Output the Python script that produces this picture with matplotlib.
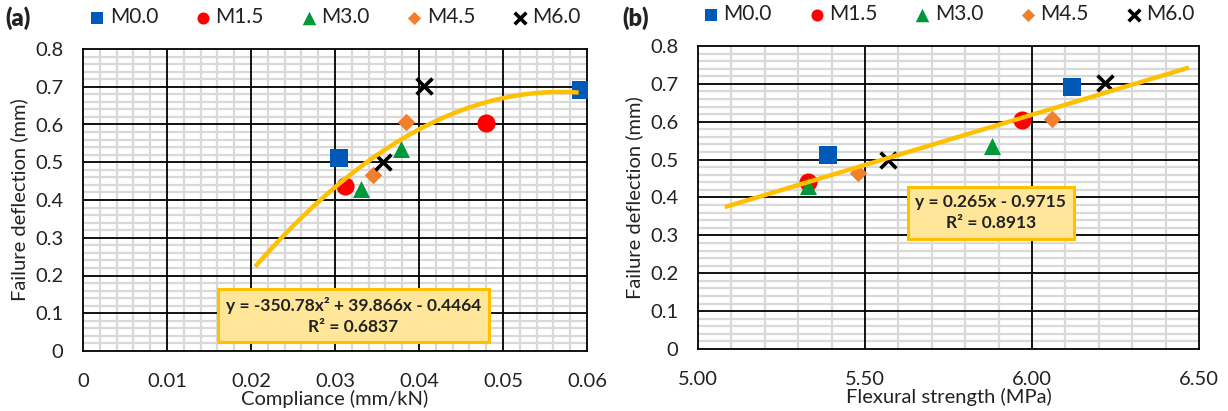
import matplotlib.pyplot as plt
import numpy as np
from matplotlib.ticker import MultipleLocator

plt.rcParams['font.family'] = ['Lato', 'DejaVu Sans']

# series labels and styles
labels = ['M0.0', 'M1.5', 'M3.0', 'M4.5', 'M6.0']
colors = ['#0058B8', '#FF0000', '#00993A', '#F07F2E', '#000000']
markers = ['s', 'o', '^', 'D', 'x']
sizes = [160, 170, 150, 80, 130]
legend_sizes = [70, 75, 95, 45, 70]

# panel (a): compliance vs failure deflection
compliance = [[0.0305, 0.0593], [0.0312, 0.0480], [0.0331, 0.0379],
              [0.0345, 0.0384], [0.0357, 0.0406]]
deflection_a = [[0.512, 0.692], [0.437, 0.605], [0.430, 0.535],
                [0.465, 0.607], [0.500, 0.702]]
poly_a = [-350.78, 39.866, -0.4464]
fit_range_a = [0.0205, 0.059]

# panel (b): flexural strength vs failure deflection
strength = [[5.39, 6.12], [5.33, 5.97], [5.33, 5.88],
            [5.48, 6.06], [5.57, 6.22]]
deflection_b = [[0.512, 0.692], [0.440, 0.605], [0.430, 0.535],
                [0.465, 0.607], [0.500, 0.702]]
poly_b = [0.265, -0.9715]
fit_range_b = [5.08, 6.47]

TXT = '#222222'

fig = plt.figure(figsize=(12.28, 4.11), dpi=100)
ax_a = fig.add_axes([83 / 1228, 1 - 351 / 411, 504 / 1228, 302 / 411])
ax_b = fig.add_axes([698 / 1228, 1 - 349 / 411, 501 / 1228, 303 / 411])


def style_axes(ax, xlim, xmaj, xmin):
    ax.set_xlim(*xlim)
    ax.set_ylim(0, 0.8)
    ax.yaxis.set_major_locator(MultipleLocator(0.1))
    ax.yaxis.set_minor_locator(MultipleLocator(0.02))
    ax.xaxis.set_major_locator(MultipleLocator(xmaj))
    ax.xaxis.set_minor_locator(MultipleLocator(xmin))
    # light minor grid, black major grid drawn on top of it
    ax.grid(which='minor', color='#D9D9D9', lw=1.6)
    ax.set_axisbelow(True)
    for v in ax.xaxis.get_majorticklocs():
        if xlim[0] < v < xlim[1]:
            ax.axvline(v, color='black', lw=1.3, zorder=1)
    for v in ax.yaxis.get_majorticklocs():
        if 0 < v < 0.8:
            ax.axhline(v, color='black', lw=1.3, zorder=1)
    for s in ax.spines.values():
        s.set_color('black')
        s.set_linewidth(1.3)
    ax.tick_params(which='both', length=0, labelsize=14.5, colors=TXT)
    ax.tick_params(axis='x', pad=16)
    ax.tick_params(axis='y', pad=14)
    ax.set_ylabel('Failure deflection (mm)', fontsize=14.5, color=TXT, labelpad=5)


def scatter_series(ax, xs, ys):
    for lab, col, m, s, x, y in zip(labels, colors, markers, sizes, xs, ys):
        lw = 2.6 if m == 'x' else 0
        ax.scatter(x, y, color=col, marker=m, s=s, linewidths=lw, zorder=4, label=lab)


def add_legend(ax):
    leg = ax.legend(loc='center', bbox_to_anchor=(0.5, 1.105), ncol=5, frameon=False,
                    fontsize=15, handletextpad=0.2, columnspacing=1.75,
                    handlelength=0.8, borderaxespad=0)
    for h, s in zip(leg.legend_handles, legend_sizes):
        h.set_sizes([s])
    for t in leg.get_texts():
        t.set_color(TXT)


def zero_fmt(digits):
    return plt.FuncFormatter(lambda v, p: '0' if abs(v) < 1e-12 else f'{v:.{digits}f}')


# ---- panel (a)
style_axes(ax_a, (0, 0.06), 0.01, 0.002)
ax_a.xaxis.set_major_formatter(zero_fmt(2))
ax_a.yaxis.set_major_formatter(zero_fmt(1))
scatter_series(ax_a, compliance, deflection_a)
xa = np.linspace(fit_range_a[0], fit_range_a[1], 200)
ax_a.plot(xa, np.polyval(poly_a, xa), color='#FFC000', lw=3.2, zorder=5,
          solid_capstyle='butt')
ax_a.set_xlabel('Compliance (mm/kN)', fontsize=14.5, color=TXT, labelpad=0)
add_legend(ax_a)
ax_a.text(0.0322, 0.093, 'y = -350.78x² + 39.866x - 0.4464\nR² = 0.6837',
          ha='center', va='center', fontsize=12.5, fontweight='bold', color=TXT,
          linespacing=1.35, zorder=6,
          bbox=dict(boxstyle='square,pad=0.45', fc='#FFE699', ec='#FFC000', lw=2.2))

# ---- panel (b)
style_axes(ax_b, (5.0, 6.5), 0.5, 0.1)
ax_b.xaxis.set_major_formatter(plt.FuncFormatter(lambda v, p: f'{v:.2f}'))
ax_b.yaxis.set_major_formatter(zero_fmt(1))
scatter_series(ax_b, strength, deflection_b)
xb = np.linspace(fit_range_b[0], fit_range_b[1], 50)
ax_b.plot(xb, np.polyval(poly_b, xb), color='#FFC000', lw=3.2, zorder=5,
          solid_capstyle='butt')
ax_b.set_xlabel('Flexural strength (MPa)', fontsize=14.5, color=TXT, labelpad=0)
add_legend(ax_b)
ax_b.text(5.877, 0.36, 'y = 0.265x - 0.9715\nR² = 0.8913',
          ha='center', va='center', fontsize=12.5, fontweight='bold', color=TXT,
          linespacing=1.35, zorder=6,
          bbox=dict(boxstyle='square,pad=0.45', fc='#FFE699', ec='#FFC000', lw=2.2))

fig.text(5 / 1228, 1 - 18 / 411, '(a)', fontsize=17, fontweight='heavy', va='center', color=TXT)
fig.text(622 / 1228, 1 - 18 / 411, '(b)', fontsize=17, fontweight='heavy', va='center', color=TXT)

fig.savefig('out.png', dpi=100)
